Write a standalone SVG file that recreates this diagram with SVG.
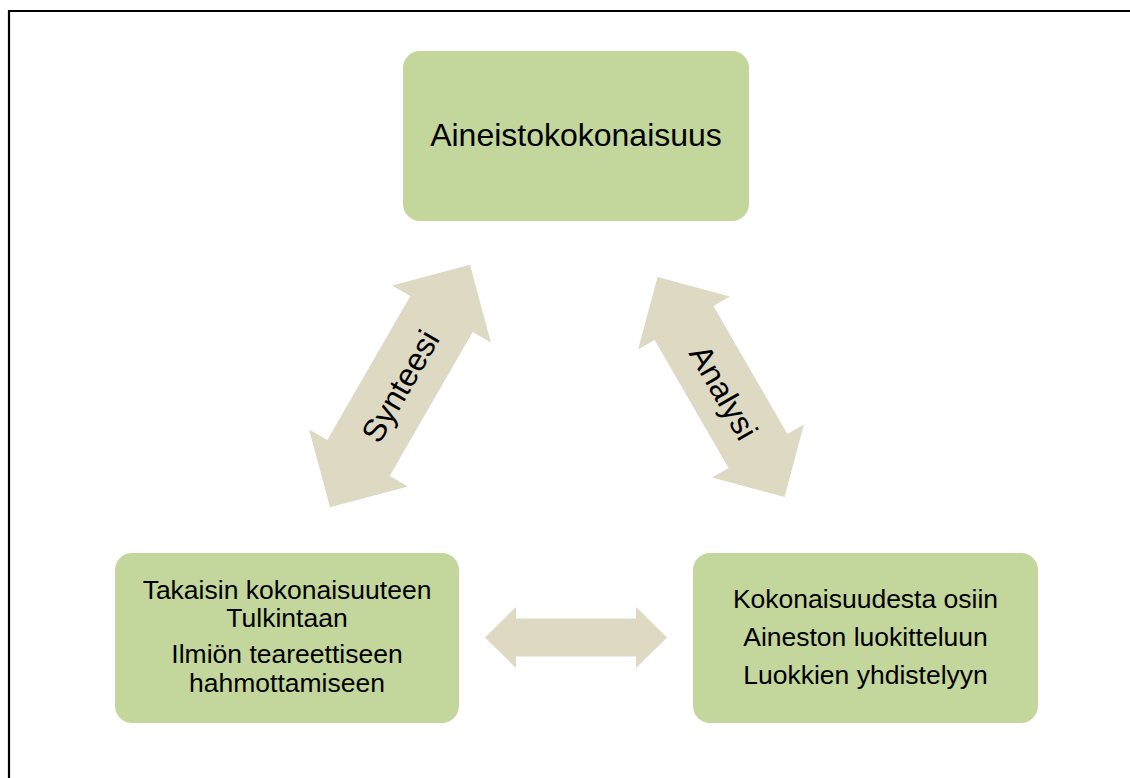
<svg xmlns="http://www.w3.org/2000/svg" width="1130" height="778" viewBox="0 0 1130 778">
  <style>
    .box { fill: #C3D69B; }
    .arrow { fill: #DDD9C3; }
    text { font-family: "Liberation Sans", Arial, sans-serif; fill: #000; text-anchor: middle; }
    .t-main { font-size: 32px; }
    .t-box { font-size: 26.5px; }
    .t-arrow { font-size: 32px; }
  </style>
  <rect x="0" y="0" width="1130" height="778" fill="#fff"/>
  <!-- frame (open to the right and bottom) -->
  <path d="M9,778 V11 H1130" fill="none" stroke="#000" stroke-width="2.2"/>

  <g id="connectors">
    <g id="arrow-synteesi" transform="translate(400,386) rotate(-60)">
      <path class="arrow" d="M-140,0 L-83,-57 L-83,-36 L83,-36 L83,-57 L140,0 L83,57 L83,36 L-83,36 L-83,57 Z"/>
      <text class="t-arrow" x="0" y="11.5">Synteesi</text>
    </g>
    <g id="arrow-analyysi" transform="translate(721,387) rotate(60)">
      <path class="arrow" d="M-127,0 L-74,-53 L-74,-34 L74,-34 L74,-53 L127,0 L74,53 L74,34 L-74,34 L-74,53 Z"/>
      <text class="t-arrow" x="6" y="11.5">Analysi</text>
    </g>
    <g id="arrow-bottom" transform="translate(576,637.5)">
      <path class="arrow" d="M-91,0 L-60,-30.5 L-60,-19 L60,-19 L60,-30.5 L91,0 L60,30.5 L60,19 L-60,19 L-60,30.5 Z"/>
    </g>
  </g>

  <g id="node-aineisto">
    <rect class="box" x="403" y="51" width="346" height="170" rx="17"/>
    <text class="t-main" x="576" y="146">Aineistokokonaisuus</text>
  </g>

  <g id="node-synteesi">
    <rect class="box" x="115" y="553" width="344" height="170" rx="17"/>
    <text class="t-box" x="287" y="599">Takaisin kokonaisuuteen</text>
    <text class="t-box" x="287" y="627">Tulkintaan</text>
    <text class="t-box" x="287" y="663">Ilmiön teareettiseen</text>
    <text class="t-box" x="287" y="692">hahmottamiseen</text>
  </g>

  <g id="node-analyysi">
    <rect class="box" x="693" y="553" width="345" height="170" rx="17"/>
    <text class="t-box" x="865.5" y="608">Kokonaisuudesta osiin</text>
    <text class="t-box" x="865.5" y="646">Aineston luokitteluun</text>
    <text class="t-box" x="865.5" y="684">Luokkien yhdistelyyn</text>
  </g>
</svg>
